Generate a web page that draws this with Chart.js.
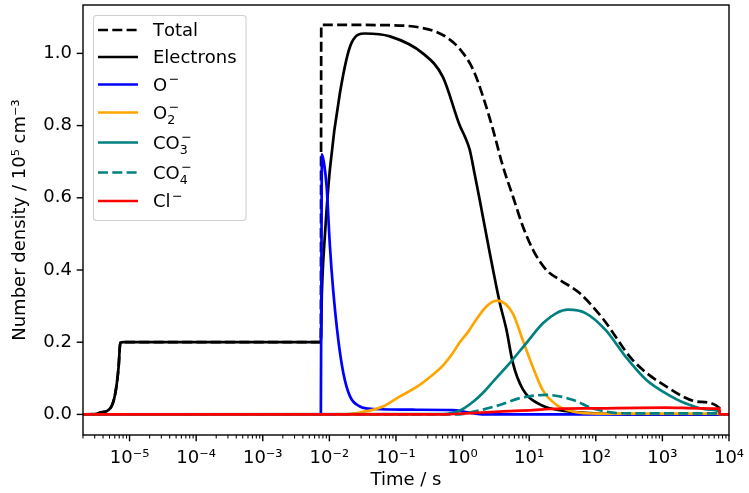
<!DOCTYPE html>
<html>
<head>
<meta charset="utf-8">
<script src="https://cdn.jsdelivr.net/npm/chart.js@4.4.0/dist/chart.umd.min.js"></script>
<style>
  html, body { margin: 0; padding: 0; background: #fff; }
  #wrap { width: 749px; height: 493px; }
</style>
</head>
<body>
<div id="wrap"><canvas id="chart" width="749" height="493"></canvas></div>
<script>
// time in s, density in 1e5 cm^-3
const tTotal = [2e-6, 3e-6, 3.64e-6, 5.14e-6, 6.1e-6, 6.85e-6, 7.26e-6, 8e-6, 7.45e-3, 7.55e-3, 0.081, 0.253, 0.505, 0.93, 1.44, 2.03, 2.87, 4.05, 5.72, 8.07, 11.4, 18.1, 28.6, 57.1, 128, 356, 1150, 3600, 7180, 7300, 1e4];
const yTotal = [0, 0.001, 0.005, 0.017, 0.058, 0.132, 0.198, 0.2, 0.2, 1.079, 1.078, 1.07, 1.051, 1.01, 0.955, 0.88, 0.788, 0.686, 0.603, 0.52, 0.456, 0.40, 0.373, 0.336, 0.265, 0.151, 0.077, 0.035, 0.018, 0, 0];

const tElec = [2e-6, 3e-6, 3.64e-6, 5.14e-6, 6.1e-6, 6.85e-6, 7.26e-6, 8e-6, 7.45e-3, 7.7e-3, 8.6e-3, 1.02e-2, 1.44e-2, 2.16e-2, 3.42e-2, 8.11e-2, 0.253, 0.505, 0.908, 1.08, 1.28, 1.52, 1.81, 2.56, 3.61, 4.55, 5.66, 8.0, 14.4, 36.5, 114, 454, 1e4];
const yElec = [0, 0.001, 0.005, 0.017, 0.058, 0.132, 0.198, 0.2, 0.2, 0.33, 0.5, 0.68, 0.89, 1.03, 1.055, 1.047, 1.0, 0.935, 0.80, 0.77, 0.733, 0.665, 0.594, 0.447, 0.31, 0.235, 0.144, 0.07, 0.028, 0.009, 0.002, 0, 0];

const tOm = [2e-6, 7.45e-3, 7.65e-3, 7.74e-3, 8.4e-3, 9.1e-3, 1.02e-2, 1.14e-2, 1.36e-2, 1.62e-2, 2.04e-2, 2.88e-2, 4.51e-2, 0.2, 0.713, 1.16, 1.8, 3.0, 1e4];
const yOm = [0, 0, 0.6, 0.72, 0.69, 0.63, 0.465, 0.345, 0.207, 0.115, 0.05, 0.022, 0.015, 0.013, 0.012, 0.006, 0.001, 0, 0];

const tO2m = [2e-6, 0.015, 0.03, 0.0637, 0.115, 0.204, 0.357, 0.505, 0.713, 0.908, 1.2, 1.44, 2.28, 3.3, 5.66, 8.0, 11.3, 15.9, 25.8, 44.9, 114, 7180, 7300, 1e4];
const yO2m = [0, 0, 0.006, 0.022, 0.05, 0.076, 0.11, 0.135, 0.17, 0.2, 0.228, 0.25, 0.299, 0.315, 0.28, 0.206, 0.132, 0.068, 0.026, 0.008, 0.002, 0.002, 0, 0];

const tCO3m = [2e-6, 0.5, 0.9, 1.44, 2.03, 3.0, 5.1, 9.0, 16.2, 25.3, 38.6, 71, 140, 280, 570, 1110, 2200, 5080, 7180, 7300, 1e4];
const yCO3m = [0, 0.001, 0.01, 0.035, 0.06, 0.095, 0.142, 0.197, 0.253, 0.28, 0.29, 0.28, 0.234, 0.16, 0.096, 0.059, 0.031, 0.013, 0.008, 0, 0];

const tCO4m = [2e-6, 0.9, 1.13, 3.61, 7.2, 18.1, 46, 89, 180, 300, 7180, 7300, 1e4];
const yCO4m = [0, 0, 0.003, 0.026, 0.045, 0.054, 0.04, 0.017, 0.005, 0.003, 0.003, 0, 0];

const tClm = [2e-6, 0.5, 1.13, 3.6, 11.4, 20.3, 114, 1110, 3600, 7180, 7300, 1e4];
const yClm = [0, 0, 0.003, 0.008, 0.012, 0.015, 0.017, 0.019, 0.017, 0.016, 0, 0];

const seriesLabels = ['Total', 'Electrons', 'O⁻', 'O₂⁻', 'CO₃⁻', 'CO₄⁻', 'Cl⁻'];
const xTicks = [1e-5, 1e-4, 1e-3, 1e-2, 1e-1, 1, 10, 100, 1000, 1e4];
const xTickLabels = ['10⁻⁵', '10⁻⁴', '10⁻³', '10⁻²', '10⁻¹', '10⁰', '10¹', '10²', '10³', '10⁴'];
const yTicks = [0, 0.2, 0.4, 0.6, 0.8, 1.0];

const FONT = "'DejaVu Sans', sans-serif";
Chart.defaults.font.family = FONT;
Chart.defaults.font.size = 18;
Chart.defaults.color = '#000';

function pts(ts, ys) {
    return ts.map((t, i) => ({ x: t, y: ys[i] }));
}

const DASH = [10, 4.3];

function series(label, ts, ys, color, dash, order) {
    return {
        label: label,
        data: pts(ts, ys),
        borderColor: color,
        borderWidth: 2.7,
        borderDash: dash,
        pointRadius: 0,
        fill: false,
        cubicInterpolationMode: 'monotone',
        order: order
    };
}

// legend labels with sub- and superscripts, drawn like matplotlib mathtext
const SUBS = '₀₁₂₃₄₅₆₇₈₉';
function drawRich(ctx, text, x, y) {
    let cx = x;
    let subX = null;
    for (const ch of text) {
        const si = SUBS.indexOf(ch);
        if (si >= 0) {
            ctx.font = '12.6px ' + FONT;
            ctx.fillText(String(si), cx, y + 5.7);
            subX = cx;
            cx += ctx.measureText(String(si)).width;
        } else if (ch === '⁻') {
            ctx.font = '12.6px ' + FONT;
            const sx = (subX !== null ? subX : cx) + 1.5;
            ctx.fillText('−', sx, y - 7.5);
            cx = Math.max(cx, sx + ctx.measureText('−').width);
        } else {
            ctx.font = '18px ' + FONT;
            ctx.fillText(ch, cx, y);
            cx += ctx.measureText(ch).width;
            subX = null;
        }
    }
}

const legendRows = [30, 57, 84.5, 112.5, 142.5, 172.5, 201];

const insideLegend = {
    id: 'insideLegend',
    afterDraw(chart) {
        const ctx = chart.ctx;
        const a = chart.chartArea;
        const bx = a.left + 10, by = a.top + 10, bw = 152.5, bh = 205;
        ctx.save();
        ctx.beginPath();
        ctx.roundRect(bx + 0.5, by + 0.5, bw, bh, 3);
        ctx.fillStyle = 'rgba(255,255,255,0.8)';
        ctx.fill();
        ctx.strokeStyle = '#d0d0d0';
        ctx.lineWidth = 1.1;
        ctx.stroke();
        chart.data.datasets.forEach((ds, i) => {
            const ry = legendRows[i];
            ctx.beginPath();
            ctx.strokeStyle = ds.borderColor;
            ctx.lineWidth = ds.borderWidth;
            ctx.setLineDash(ds.borderDash || []);
            ctx.moveTo(bx + 5, ry);
            ctx.lineTo(bx + 45, ry);
            ctx.stroke();
            ctx.setLineDash([]);
            ctx.fillStyle = '#000';
            ctx.textBaseline = 'alphabetic';
            ctx.textAlign = 'left';
            drawRich(ctx, ds.label, bx + 60, ry + 6);
        });
        ctx.restore();
    }
};

const axisFrame = {
    id: 'axisFrame',
    afterDatasetsDraw(chart) {
        const ctx = chart.ctx;
        const a = chart.chartArea;
        const xs = chart.scales.x, ys = chart.scales.y;
        ctx.save();
        ctx.strokeStyle = '#000';
        const seg = (x1, y1, x2, y2, w) => {
            ctx.lineWidth = w;
            ctx.beginPath();
            ctx.moveTo(x1, y1);
            ctx.lineTo(x2, y2);
            ctx.stroke();
        };
        for (let e = -6; e < 4; e++) {
            for (let m = 2; m <= 9; m++) {
                const v = m * Math.pow(10, e);
                if (v < xs.min || v > xs.max) continue;
                const px = xs.getPixelForValue(v);
                seg(px, a.bottom, px, a.bottom + 3.6, 1.05);
            }
        }
        xTicks.forEach(v => {
            const px = xs.getPixelForValue(v);
            seg(px, a.bottom, px, a.bottom + 6.3, 1.4);
        });
        yTicks.forEach(v => {
            const py = ys.getPixelForValue(v);
            seg(a.left - 6.3, py, a.left, py, 1.4);
        });
        ctx.lineWidth = 1.4;
        ctx.strokeRect(a.left, a.top, a.right - a.left, a.bottom - a.top);
        ctx.restore();
    }
};

new Chart(document.getElementById('chart'), {
    type: 'line',
    data: {
        datasets: [
            series(seriesLabels[0], tTotal, yTotal, '#000000', DASH, 7),
            series(seriesLabels[1], tElec, yElec, '#000000', [], 6),
            series(seriesLabels[2], tOm, yOm, '#0000ff', [], 5),
            series(seriesLabels[3], tO2m, yO2m, '#ffa500', [], 4),
            series(seriesLabels[4], tCO3m, yCO3m, '#008080', [], 3),
            series(seriesLabels[5], tCO4m, yCO4m, '#008080', DASH, 2),
            series(seriesLabels[6], tClm, yClm, '#ff0000', [], 1)
        ]
    },
    options: {
        responsive: false,
        animation: false,
        layout: { padding: { left: 0, right: 20, top: 5, bottom: 0 } },
        plugins: {
            legend: { display: false },
            tooltip: { enabled: false }
        },
        scales: {
            x: {
                type: 'logarithmic',
                min: 2e-6,
                max: 1e4,
                grid: { display: false, drawTicks: false },
                border: { display: false },
                afterBuildTicks: s => { s.ticks = xTicks.map(v => ({ value: v })); },
                afterFit: s => { s.height = 58; s.paddingLeft = 0; s.paddingRight = 0; },
                ticks: {
                    autoSkip: false,
                    maxRotation: 0,
                    padding: 13,
                    callback: (v) => {
                        const i = xTicks.findIndex(t => Math.abs(Math.log10(t) - Math.log10(v)) < 1e-6);
                        return i >= 0 ? xTickLabels[i] : '';
                    }
                },
                title: { display: true, text: 'Time / s', padding: { top: 0, bottom: 1.5 } }
            },
            y: {
                min: -0.057,
                max: 1.134,
                grid: { display: false, drawTicks: false },
                border: { display: false },
                afterBuildTicks: s => { s.ticks = yTicks.map(v => ({ value: v })); },
                afterFit: s => { s.width = 83; s.paddingTop = 0; s.paddingBottom = 0; },
                ticks: {
                    padding: 11,
                    callback: v => v.toFixed(1)
                },
                title: { display: true, text: 'Number density / 10⁵ cm⁻³', padding: { top: 10, bottom: 0 } }
            }
        }
    },
    plugins: [axisFrame, insideLegend]
});
</script>
</body>
</html>
